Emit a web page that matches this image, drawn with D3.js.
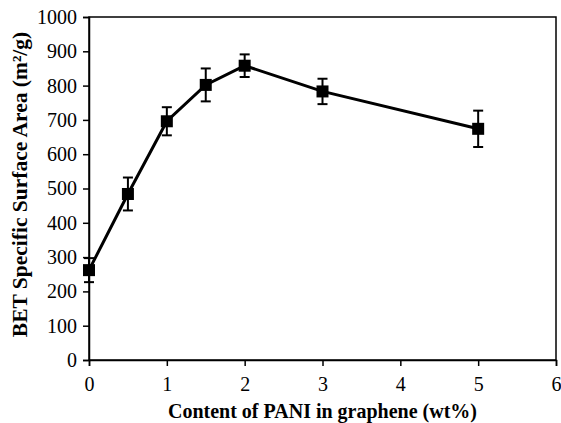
<!DOCTYPE html>
<html>
<head>
<meta charset="utf-8">
<script src="https://cdn.jsdelivr.net/npm/d3@7"></script>
<style>
  html, body { margin: 0; padding: 0; background: #fff; }
  svg { display: block; }
</style>
</head>
<body>
<svg id="chart" width="561" height="423"></svg>
<script>
// PANI content (wt%) and BET surface area with error bars
const paniContent = [0, 0.5, 1, 1.5, 2, 3, 5];
const surfaceArea = [262, 484, 696, 802, 858, 783, 674];
const surfaceError = [35, 48, 41, 48, 33, 37, 53];
const xTicks = [0, 1, 2, 3, 4, 5, 6];
const yTicks = [0, 100, 200, 300, 400, 500, 600, 700, 800, 900, 1000];

const FONT = "'Liberation Serif', 'Times New Roman', Times, serif";
const svg = d3.select("#chart");
const margin = { left: 89, right: 5, top: 17, bottom: 63 };
const W = 561, H = 423;

const x = d3.scaleLinear().domain([0, 6]).range([margin.left, W - margin.right]);
const y = d3.scaleLinear().domain([0, 1000]).range([H - margin.bottom, margin.top]);

// plot frame
svg.append("rect")
  .attr("x", x(0)).attr("y", y(1000))
  .attr("width", x(6) - x(0)).attr("height", y(0) - y(1000))
  .attr("fill", "none").attr("stroke", "#000").attr("stroke-width", 1.5);

const xAxis = svg.append("g")
  .attr("transform", `translate(0,${y(0)})`)
  .call(d3.axisBottom(x).tickValues(xTicks).tickFormat(d3.format("d")).tickSize(6).tickPadding(11));
const yAxis = svg.append("g")
  .attr("transform", `translate(${x(0)},0)`)
  .call(d3.axisLeft(y).tickValues(yTicks).tickFormat(d3.format("d")).tickSize(6).tickPadding(6));

[xAxis, yAxis].forEach(g => {
  g.attr("font-family", FONT).attr("font-size", 20);
  g.select(".domain").attr("stroke", "#000").attr("stroke-width", 1.5);
  g.selectAll(".tick line").attr("stroke", "#000").attr("stroke-width", 1.5);
  g.selectAll(".tick text").attr("fill", "#000");
});

// axis titles
svg.append("text")
  .attr("x", (x(0) + x(6)) / 2).attr("y", 418)
  .attr("text-anchor", "middle")
  .attr("font-family", FONT).attr("font-size", 20).attr("font-weight", "bold")
  .text("Content of PANI in graphene (wt%)");

svg.append("text")
  .attr("transform", `translate(27,${(y(0) + y(1000)) / 2 - 4}) rotate(-90)`)
  .attr("text-anchor", "middle")
  .attr("font-family", FONT).attr("font-size", 21.5).attr("font-weight", "bold")
  .text("BET Specific Surface Area (m²/g)");

const pts = paniContent.map((c, i) => ({ c, v: surfaceArea[i], e: surfaceError[i] }));

// connecting line
svg.append("path")
  .datum(pts)
  .attr("fill", "none").attr("stroke", "#000").attr("stroke-width", 3)
  .attr("d", d3.line().x(d => x(d.c)).y(d => y(d.v)));

// error bars
const eb = svg.append("g").attr("stroke", "#000").attr("stroke-width", 2);
pts.forEach(d => {
  eb.append("line").attr("x1", x(d.c)).attr("x2", x(d.c))
    .attr("y1", y(d.v - d.e)).attr("y2", y(d.v + d.e));
  [d.v - d.e, d.v + d.e].forEach(v => {
    eb.append("line").attr("x1", x(d.c) - 5).attr("x2", x(d.c) + 5)
      .attr("y1", y(v)).attr("y2", y(v));
  });
});

// square markers
svg.append("g").selectAll("rect")
  .data(pts).join("rect")
  .attr("x", d => x(d.c) - 6).attr("y", d => y(d.v) - 6)
  .attr("width", 12).attr("height", 12)
  .attr("fill", "#000");
</script>
</body>
</html>
